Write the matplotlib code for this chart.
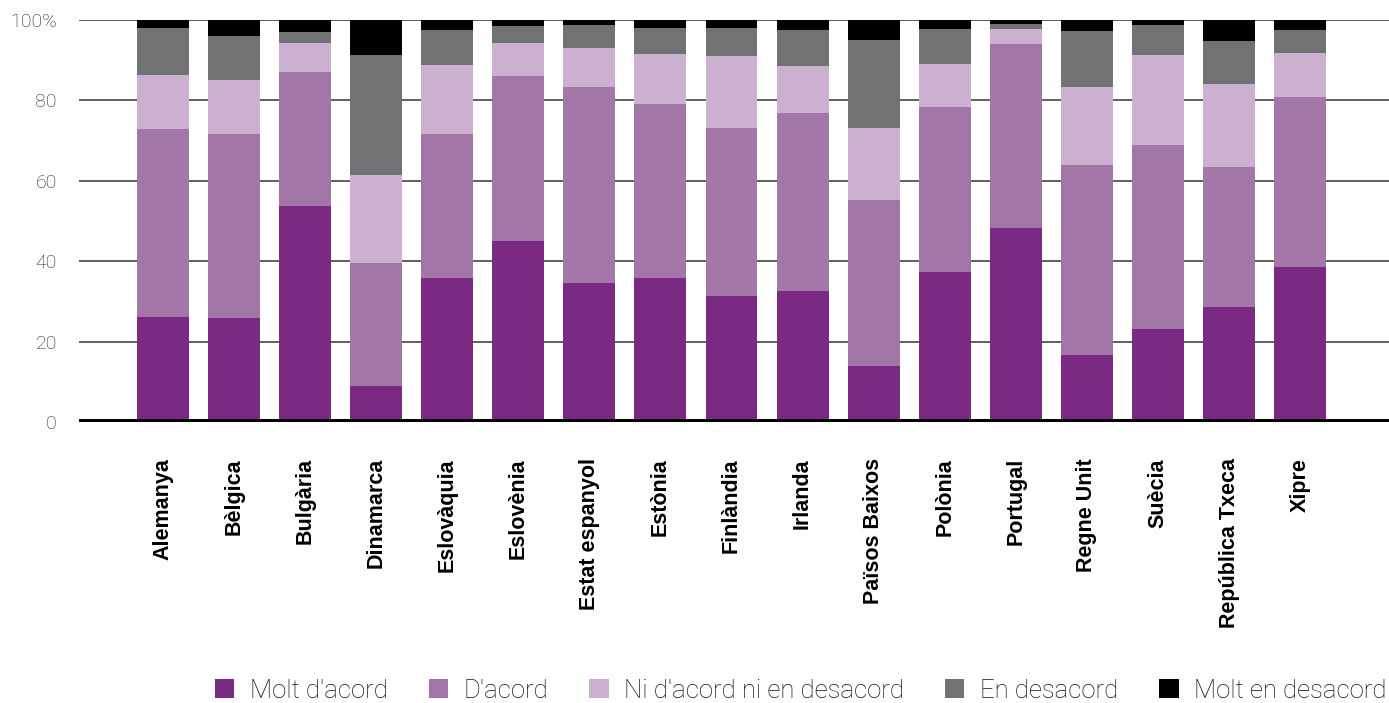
import matplotlib
matplotlib.use("Agg")
import matplotlib.pyplot as plt
from matplotlib.patches import Patch
import numpy as np

countries = ["Alemanya", "Bèlgica", "Bulgària", "Dinamarca", "Eslovàquia", "Eslovènia",
             "Estat espanyol", "Estònia", "Finlàndia", "Irlanda", "Països Baixos", "Polònia",
             "Portugal", "Regne Unit", "Suècia", "República Txeca", "Xipre"]
molt_acord = [26.1, 25.9, 53.7, 8.9, 35.8, 45.1, 34.5, 35.8, 31.3, 32.5, 13.9, 37.3, 48.2, 16.6, 23.1, 28.5, 38.5]
acord = [46.8, 45.7, 33.4, 30.6, 35.8, 41.0, 48.8, 43.3, 41.8, 44.3, 41.3, 41.0, 45.8, 47.3, 45.8, 34.9, 42.3]
ni_ni = [13.4, 13.5, 7.2, 21.9, 17.2, 8.2, 9.7, 12.4, 17.9, 11.8, 17.9, 10.7, 3.7, 19.4, 22.4, 20.7, 11.0]
desacord = [11.7, 11.0, 2.7, 29.9, 8.7, 4.2, 5.8, 6.5, 7.0, 8.9, 21.9, 8.7, 1.3, 13.9, 7.5, 10.7, 5.7]
molt_desacord = [2.0, 3.9, 3.0, 8.7, 2.5, 1.5, 1.2, 2.0, 2.0, 2.5, 5.0, 2.3, 1.0, 2.8, 1.2, 5.2, 2.5]

series = [molt_acord, acord, ni_ni, desacord, molt_desacord]
labels = ["Molt d'acord", "D'acord", "Ni d'acord ni en desacord", "En desacord", "Molt en desacord"]
colors = ["#7B2A84", "#A277A8", "#CBB0CF", "#717273", "#000000"]
yticks = [0, 20, 40, 60, 80, 100]
ytick_labels = ["0", "20", "40", "60", "80", "100%"]

light_font = ["Roboto", "DejaVu Sans"]

fig = plt.figure(figsize=(13.89, 7.03), dpi=100)
ax = fig.add_axes([79/1389, 1 - 422/703, 1 - 79/1389, 402/703])

x = np.arange(len(countries))
bottom = np.zeros(len(countries))
for vals, c, lab in zip(series, colors, labels):
    ax.bar(x, vals, bottom=bottom, width=0.73, color=c, label=lab, zorder=2)
    bottom += np.array(vals)

for t in yticks[1:]:
    ax.axhline(t, color="#444444", lw=1.2, zorder=1)
ax.axhline(0, color="black", lw=5, zorder=3)

ax.set_xlim(-1.18, len(countries) - 1 + 1.25)
ax.set_ylim(0, 100)
for s in ax.spines.values():
    s.set_visible(False)
ax.set_yticks(yticks)
ax.set_yticklabels(ytick_labels, fontsize=14, color="#222222", family=light_font, fontweight="light")
ax.tick_params(axis="y", length=0, pad=16)
ax.set_xticks(x)
ax.set_xticklabels(countries, rotation=90, fontsize=15.5, fontweight="bold",
                   family=["Liberation Sans", "DejaVu Sans"], va="top", ha="center")
ax.tick_params(axis="x", length=0, pad=26)

handles = [Patch(facecolor=c, edgecolor="none") for c in colors]
fig.legend(handles, labels, loc="lower right", bbox_to_anchor=(1.0, -0.003), ncol=5, frameon=False,
           prop={"family": light_font, "size": 18.5, "weight": "light"}, labelcolor="#111111",
           handlelength=0.75, handleheight=0.75, handletextpad=0.6, columnspacing=1.6,
           borderaxespad=0.0, borderpad=0.1)

fig.savefig("out.png", dpi=100)
